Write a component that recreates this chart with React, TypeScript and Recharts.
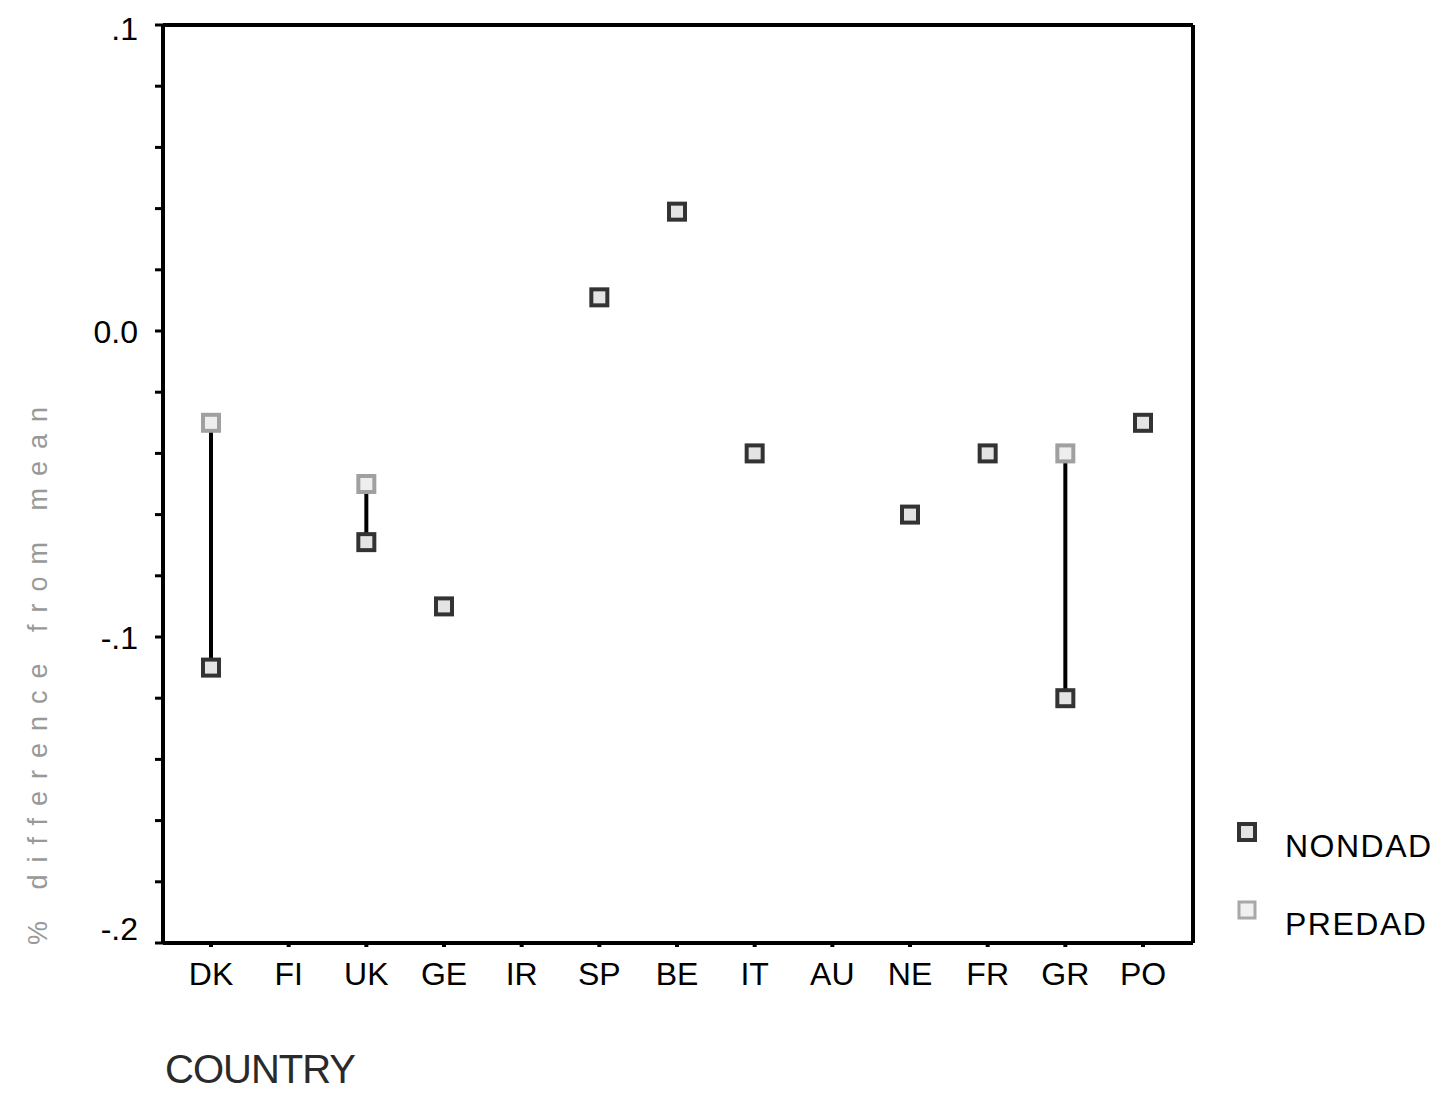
import React from 'react';
import { ComposedChart, Scatter, XAxis, YAxis, Legend, ErrorBar, ReferenceLine } from 'recharts';

const countries = ['DK', 'FI', 'UK', 'GE', 'IR', 'SP', 'BE', 'IT', 'AU', 'NE', 'FR', 'GR', 'PO'];
const nondad: (number | null)[] = [-0.11, null, -0.069, -0.09, null, 0.011, 0.039, -0.04, null, -0.06, -0.04, -0.12, -0.03];
const predad: (number | null)[] = [-0.03, null, -0.05, null, null, null, null, null, null, null, null, -0.04, null];
const yTicks = [0.1, 0.08, 0.06, 0.04, 0.02, 0, -0.02, -0.04, -0.06, -0.08, -0.1, -0.12, -0.14, -0.16, -0.18, -0.2];
const yTickLabels: [number, string][] = [[0.1, '.1'], [0, '0.0'], [-0.1, '-.1'], [-0.2, '-.2']];
const yDomain: [number, number] = [-0.2, 0.1];
const xTitle = 'COUNTRY';
const yTitle = '% difference from mean';

const rows = countries.map((c, i) => {
  const a = nondad[i];
  const b = predad[i];
  const both = a != null && b != null;
  return {
    country: c,
    nondad: a,
    predad: b,
    mid: both ? ((a as number) + (b as number)) / 2 : null,
    half: both ? Math.abs((b as number) - (a as number)) / 2 : null,
  };
});

const FONT = '"Liberation Sans", Arial, sans-serif';

const makeSquare = (stroke: string, fill: string) => (props: any) => {
  const { cx, cy } = props;
  if (cx == null || cy == null || Number.isNaN(cx) || Number.isNaN(cy)) return <g />;
  return <rect x={cx - 8} y={cy - 8} width={16} height={16} fill={fill} stroke={stroke} strokeWidth={4} />;
};

const emptyShape = () => <g />;

const YTick = (props: any) => {
  const { x, y, payload } = props;
  const v = payload.value;
  const found = yTickLabels.find(([t]) => Math.abs(t - v) < 1e-9);
  if (!found) return <g />;
  let dy = 12;
  if (Math.abs(v - 0.1) < 1e-9) dy = 15;
  if (Math.abs(v + 0.2) < 1e-9) dy = -3;
  return (
    <text x={x - 15} y={y + dy} textAnchor="end" fontFamily={FONT} fontSize={32} fill="#000">
      {found[1]}
    </text>
  );
};

const XTick = (props: any) => {
  const { x, y, payload } = props;
  return (
    <text x={x} y={y + 36} textAnchor="middle" fontFamily={FONT} fontSize={32} fill="#000">
      {payload.value}
    </text>
  );
};

const legendStyles: Record<string, { stroke: string; width: number; fill: string }> = {
  NONDAD: { stroke: '#333', width: 4, fill: '#e4e4e4' },
  PREDAD: { stroke: '#a8a8a8', width: 3, fill: '#f0f0f0' },
};

const renderLegend = (props: any) => {
  const payload = (props.payload || []).filter((p: any) => p.type !== 'none');
  return (
    <svg width={224} height={150}>
      {payload.map((p: any, i: number) => {
        const st = legendStyles[p.value] || { stroke: p.color, width: 4, fill: 'none' };
        const cy = 27 + i * 78;
        return (
          <g key={p.value}>
            <rect x={22 - 8} y={cy - 8} width={16} height={16} fill={st.fill} stroke={st.stroke} strokeWidth={st.width} />
            <text x={60} y={cy + 25} fontFamily={FONT} fontSize={32} letterSpacing={1.5} fill="#000">
              {p.value}
            </text>
          </g>
        );
      })}
    </svg>
  );
};

export default function App() {
  return (
    <div style={{ position: 'absolute', left: 0, top: 0, width: 1449, height: 1096, background: '#fff' }}>
      <ComposedChart
        width={1449}
        height={1096}
        data={rows}
        margin={{ top: 25, right: 255, bottom: 0, left: 0 }}
      >
        <XAxis
          dataKey="country"
          type="category"
          scale="point"
          height={153}
          padding={{ left: 48, right: 50 }}
          axisLine={{ stroke: '#000', strokeWidth: 4 }}
          tickLine={{ stroke: '#000', strokeWidth: 4 }}
          tickSize={4}
          tick={<XTick />}
          interval={0}
          label={{
            value: xTitle,
            content: () => (
              <text x={165} y={1083} fontFamily={FONT} fontSize={40} letterSpacing={-1} fill="#2a2a2a">
                {xTitle}
              </text>
            ),
          }}
        />
        <YAxis
          type="number"
          domain={yDomain}
          ticks={yTicks}
          interval={0}
          width={163}
          axisLine={{ stroke: '#000', strokeWidth: 4 }}
          tickLine={{ stroke: '#000', strokeWidth: 3 }}
          tickSize={8}
          tick={<YTick />}
          label={{
            value: yTitle,
            content: () => (
              <text
                x={40}
                y={670}
                transform="rotate(-90, 40, 670)"
                textAnchor="middle"
                dominantBaseline="middle"
                fontFamily={FONT}
                fontSize={27}
                letterSpacing={12}
                fill="#999"
              >
                {yTitle}
              </text>
            ),
          }}
        />
        <YAxis
          yAxisId="right"
          orientation="right"
          type="number"
          domain={yDomain}
          width={1}
          tick={false}
          tickLine={false}
          axisLine={{ stroke: '#000', strokeWidth: 4 }}
        />
        <ReferenceLine y={0.1} stroke="#000" strokeWidth={4} ifOverflow="visible" />
        <Legend
          layout="horizontal"
          verticalAlign="middle"
          align="center"
          content={renderLegend}
          wrapperStyle={{ position: 'absolute', left: 1225, top: 805, width: 224, height: 150 }}
        />
        <Scatter
          name="NONDAD"
          dataKey="nondad"
          fill="#333"
          shape={makeSquare('#333', '#e4e4e4')}
          isAnimationActive={false}
        />
        <Scatter
          name="PREDAD"
          dataKey="predad"
          fill="#a8a8a8"
          shape={makeSquare('#a0a0a0', '#eeeeee')}
          isAnimationActive={false}
        />
        <Scatter
          name="range"
          dataKey="mid"
          yAxisId="right"
          legendType="none"
          shape={emptyShape}
          isAnimationActive={false}
        >
          <ErrorBar dataKey="half" direction="y" width={0} stroke="#000" strokeWidth={4} isAnimationActive={false} />
        </Scatter>
      </ComposedChart>
    </div>
  );
}
